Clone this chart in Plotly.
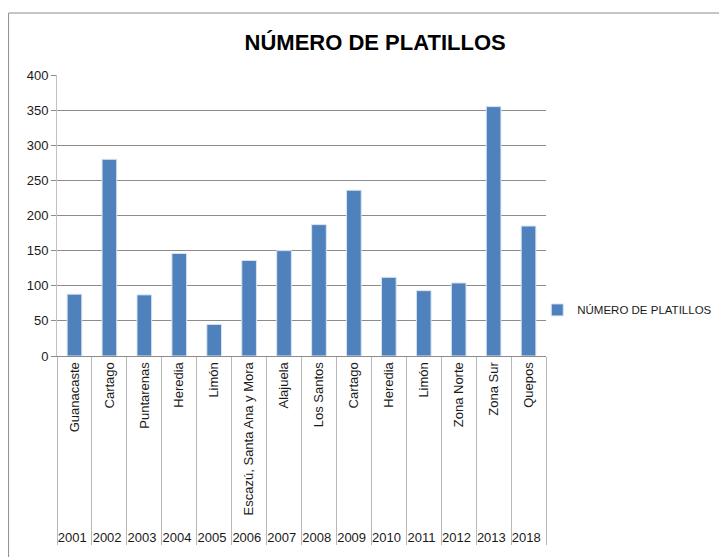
import plotly.graph_objects as go

years = ["2001", "2002", "2003", "2004", "2005", "2006", "2007",
         "2008", "2009", "2010", "2011", "2012", "2013", "2018"]
places = ["Guanacaste", "Cartago", "Puntarenas", "Heredia", "Limón",
          "Escazú, Santa Ana y Mora", "Alajuela", "Los Santos", "Cartago",
          "Heredia", "Limón", "Zona Norte", "Zona Sur", "Quepos"]
platillos = [88, 280, 87, 146, 45, 136, 150, 187, 236, 112, 93, 104, 355, 185]

series_name = "NÚMERO DE PLATILLOS"

fig = go.Figure()
fig.add_trace(go.Bar(
    x=[years, places],
    y=platillos,
    name=series_name,
    marker=dict(color="#4F81BD", line=dict(color="#D9E4F1", width=1)),
    showlegend=True,
))

# the page body adds an 8px offset, so the margins are set 8px smaller
fig.update_layout(
    width=727,
    height=557,
    margin=dict(l=49, r=189, t=67, b=209, autoexpand=False),
    paper_bgcolor="white",
    plot_bgcolor="white",
    font=dict(family="Liberation Sans", size=12, color="#1a1a1a"),
    title=dict(
        text="<b>NÚMERO DE PLATILLOS</b>",
        x=0.505, xanchor="center",
        y=0.939, yanchor="middle",
        font=dict(family="Liberation Sans", size=22, color="black"),
    ),
    bargap=0.58,
    legend=dict(
        xref="container", yref="container",
        x=0.728, xanchor="left",
        y=0.458, yanchor="middle",
        itemwidth=30,
        font=dict(size=11.5),
        bgcolor="rgba(0,0,0,0)",
    ),
    shapes=[
        # outer chart-area border (top and left edges visible)
        dict(type="rect", xref="paper", yref="paper",
             x0=-0.099, x1=1.6, y0=-1.2, y1=1.2206,
             line=dict(color="#8c8c8c", width=1), layer="below"),
    ],
)

fig.update_yaxes(
    range=[0, 400],
    dtick=50,
    automargin=False,
    showgrid=True,
    gridcolor="#8c8c8c",
    gridwidth=1,
    showline=True,
    linecolor="#c0c0c0",
    ticks="outside",
    ticklen=5,
    tickcolor="#8c8c8c",
    zeroline=False,
    tickfont=dict(size=13),
)

fig.update_xaxes(
    type="multicategory",
    automargin=False,
    tickangle=-90,
    showline=True,
    linecolor="#8c8c8c",
    ticks="outside",
    tickson="boundaries",
    ticklen=8,
    tickcolor="#b8b8b8",
    showdividers=True,
    dividercolor="#b8b8b8",
    dividerwidth=1,
    tickfont=dict(size=13),
)

fig.write_html("out.html")
